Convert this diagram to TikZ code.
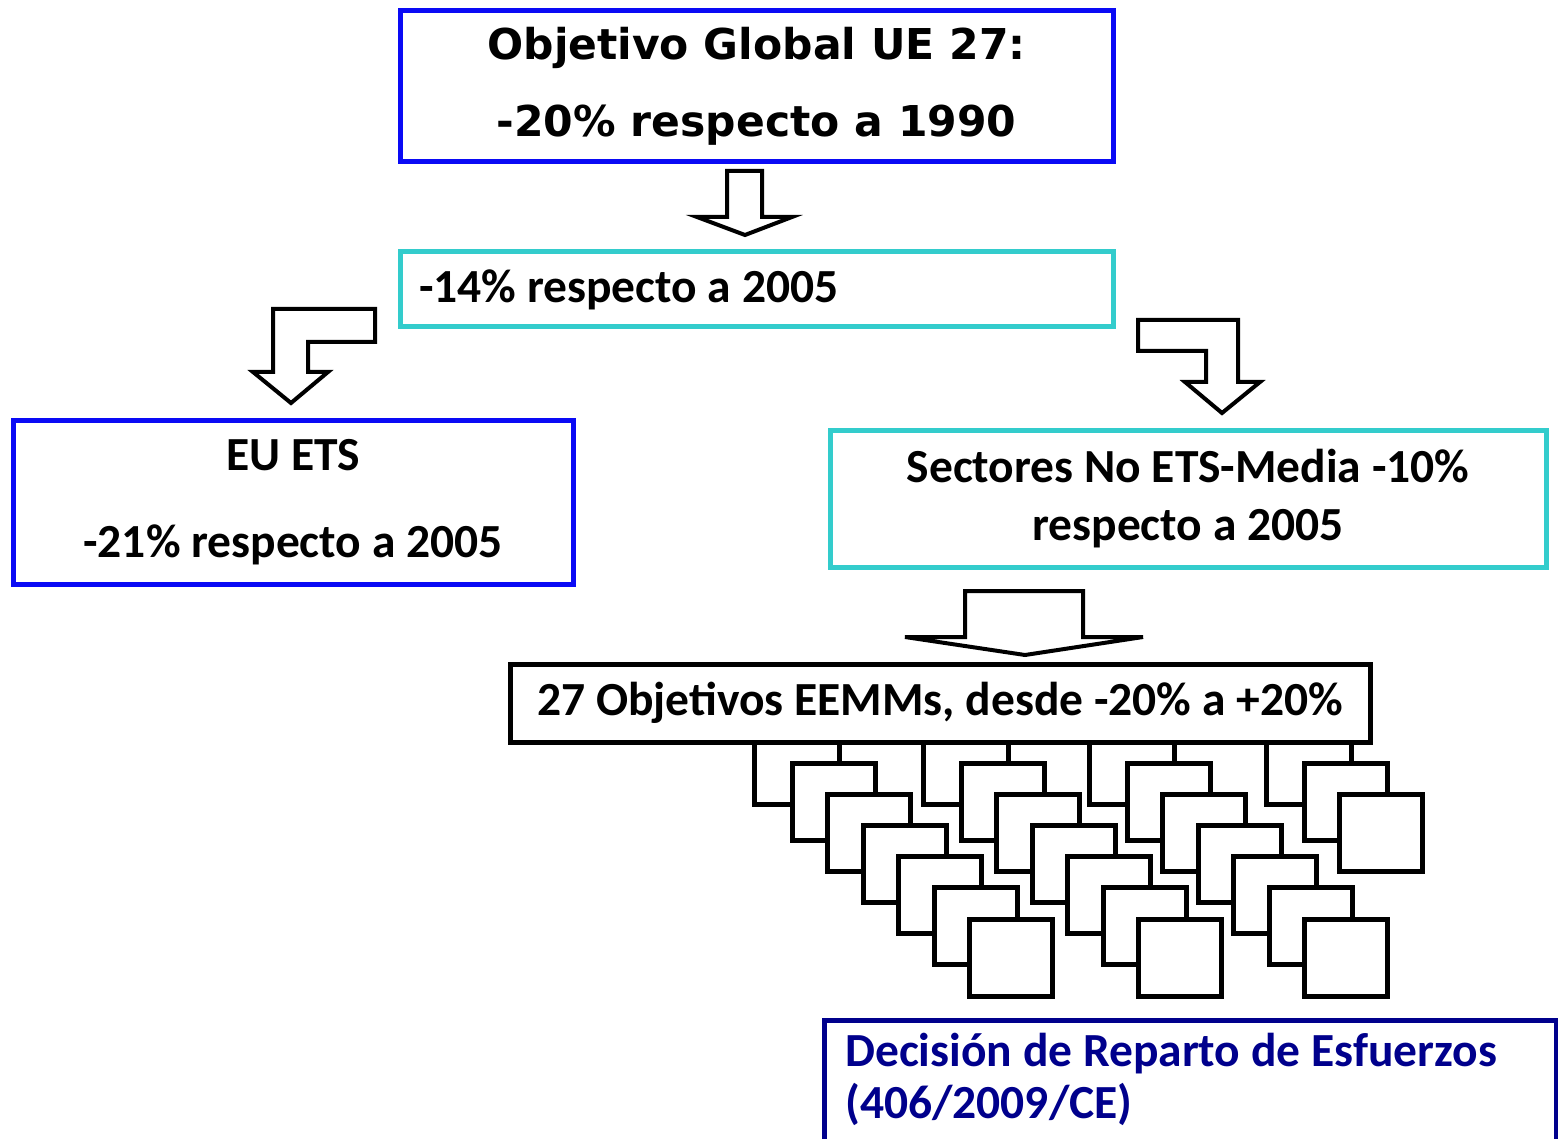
\documentclass[tikz,border=0pt]{standalone}
\usepackage{fontspec}
\setmainfont{Carlito}
\newfontfamily\verdfont{DejaVu Sans}
\usepackage{tikz}
\usetikzlibrary{positioning}

\definecolor{ueblue}{RGB}{10,10,245}
\definecolor{uecyan}{RGB}{51,204,204}
\definecolor{uenavy}{RGB}{0,0,140}

\tikzset{
  box/.style={draw, line width=5pt, rectangle, inner sep=0pt, font=\bfseries\fontsize{47.5}{58}\selectfont},
  bluebox/.style={box, draw=ueblue},
  cyanbox/.style={box, draw=uecyan},
  blockarrow/.style={draw, fill=white, line width=4pt, line join=miter},
  sq/.style={draw, fill=white, line width=5pt, rectangle, inner sep=0pt, minimum width=83pt, minimum height=77pt},
  stem/.style={line width=5pt}
}

\begin{document}
\begin{tikzpicture}[x=1pt, y=-1pt]
\useasboundingbox (0,0) rectangle (1558,1139);
\clip (0,0) rectangle (1558,1139);

% boxes
\node[bluebox, minimum width=713pt, minimum height=151pt, align=center,
      font=\verdfont\bfseries\fontsize{42.5}{77}\selectfont] (global) at (756.5,86.5)
      {Objetivo Global UE 27:\\-20\% respecto a 1990};
\node[cyanbox, minimum width=713pt, minimum height=75pt] (total) at (756.5,289.5)
      {\makebox[675pt][l]{-14\% respecto a 2005}};
\node[bluebox, minimum width=560pt, minimum height=164pt, align=center,
      font=\bfseries\fontsize{47.5}{87}\selectfont] (ets) at (293,502)
      {EU ETS\\-21\% respecto a 2005};
\node[cyanbox, minimum width=716pt, minimum height=137pt, align=center] (noets) at (1188,498.5)
      {Sectores No ETS-Media -10\%\\respecto a 2005};
\node[box, minimum width=860pt, minimum height=78pt] (eemm) at (940,703)
      {27 Objetivos EEMMs, desde -20\% a +20\%};
\node[anchor=west, align=left, inner sep=0pt, text=uenavy,
      font=\bfseries\fontsize{47.5}{52}\selectfont] (dre) at (845,1079)
      {Decisión de Reparto de Esfuerzos\\(406/2009/CE)};
\draw[uenavy, line width=5pt] (824,1160) |- (1556,1020) -- (1556,1160);

% block arrows
\draw[blockarrow] (727,171)--(762,171)--(762,217)--(792,217)--(745,235)--(697,217)--(727,217)--cycle;
\draw[blockarrow] (273,309)--(375,309)--(375,342)--(308,342)--(308,372)--(328,372)--(291,403)--(253,372)--(273,372)--cycle;
\draw[blockarrow] (1138,320)--(1238,320)--(1238,382)--(1260,382)--(1222,413)--(1185,382)--(1206,382)--(1206,351)--(1138,351)--cycle;
\draw[blockarrow] (965,591)--(1083,591)--(1083,637)--(1143,637)--(1025,655)--(905,637)--(965,637)--cycle;

% member state targets
\foreach \g/\xo/\n in {1/792/6, 2/961/6, 3/1127/6, 4/1304/2} {
  \foreach \k in {1,...,\n}
    \node[sq] (s\g-\k) at ({\xo+41.5+(\k-1)*35.5}, {763+38.5+(\k-1)*31.2}) {};
  \coordinate (t\g) at ([xshift=5.5pt]s\g-1.north);
  \coordinate (b\g) at ([yshift=-44pt]s\g-1.north west);
  \draw[stem] (t\g |- eemm.south) -- (t\g);
  \draw[stem] (b\g) -- ++(-35.5,0) coordinate (c\g) -- (c\g |- eemm.south);
}
\end{tikzpicture}
\end{document}
